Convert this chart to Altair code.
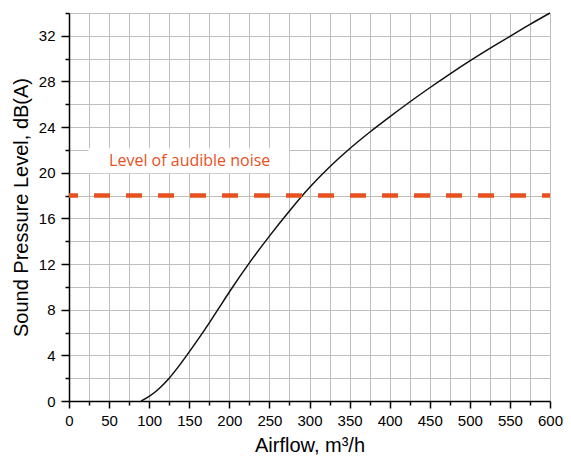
import altair as alt
import pandas as pd

# Curve data
airflow = [90, 100, 112.5, 125, 137.5, 150, 162.5, 175, 187.5, 200, 225, 250, 275,
           300, 325, 350, 375, 400, 425, 450, 475, 500, 525, 550, 575, 600]
spl = [0, 0.4, 1.1, 2.0, 3.1, 4.3, 5.55, 6.85, 8.2, 9.55, 12.1, 14.45, 16.65,
       18.7, 20.5, 22.1, 23.55, 24.9, 26.2, 27.45, 28.65, 29.8, 30.9, 31.95, 33.0, 34.0]

# Threshold line
noise_level = [18]
noise_label = ["Level of audible noise"]

# Axis ticks
x_ticks = list(range(0, 601, 25))
y_ticks = list(range(0, 35, 2))

ORANGE = "#e8501e"
FONT = "Liberation Sans"

curve_df = pd.DataFrame({"airflow": airflow, "spl": spl})
rule_df = pd.DataFrame({"x0": [0], "x1": [600], "level": noise_level})
box_df = pd.DataFrame({"x0": [25], "x1": [274], "y0": [20], "y1": [22.1]})
label_df = pd.DataFrame({"x": [50], "y": [20.55], "text": noise_label})

x_scale = alt.Scale(domain=[0, 600], nice=False, zero=False)
y_scale = alt.Scale(domain=[0, 34], nice=False)

x_axis = alt.Axis(
    values=x_ticks,
    labelExpr="datum.value % 50 === 0 ? datum.label : ''",
    tickSize={"condition": {"test": "datum.value % 50 === 0", "value": 7}, "value": 4},
    grid=True, gridColor="#bebebe", gridWidth=1,
    domainColor="#000000", domainWidth=1.5,
    tickColor="#000000", tickWidth=1.5,
    labelFont=FONT, labelFontSize=15, labelColor="#000000", labelPadding=5,
    labelFlush=False, labelOverlap=False,
    title="Airflow, m³/h", titleFont=FONT, titleFontSize=20, titleFontWeight="normal",
    titleColor="#000000", titlePadding=7,
)
y_axis = alt.Axis(
    values=y_ticks,
    labelExpr="datum.value % 4 === 0 ? datum.label : ''",
    tickSize={"condition": {"test": "datum.value % 4 === 0", "value": 8}, "value": 4},
    grid=True, gridColor="#bebebe", gridWidth=1,
    domainColor="#000000", domainWidth=1.5,
    tickColor="#000000", tickWidth=1.5,
    labelFont=FONT, labelFontSize=15, labelColor="#000000", labelPadding=6,
    labelFlush=False, labelOverlap=False,
    title="Sound Pressure Level, dB(A)", titleFont=FONT, titleFontSize=20,
    titleFontWeight="normal", titleColor="#000000", titlePadding=7,
)

box = alt.Chart(box_df).mark_rect(fill="white", stroke="white").encode(
    x=alt.X("x0:Q", scale=x_scale, axis=x_axis),
    x2="x1:Q",
    y=alt.Y("y0:Q", scale=y_scale, axis=y_axis),
    y2="y1:Q",
)

line = alt.Chart(curve_df).mark_line(color="#111111", strokeWidth=1.5, interpolate="monotone").encode(
    x=alt.X("airflow:Q", scale=x_scale, axis=x_axis),
    y=alt.Y("spl:Q", scale=y_scale, axis=y_axis),
)

rule = alt.Chart(rule_df).mark_rule(
    color=ORANGE, strokeWidth=4.5, strokeDash=[16, 16], strokeDashOffset=7, strokeCap="butt"
).encode(
    x=alt.X("x0:Q", scale=x_scale, axis=x_axis),
    x2="x1:Q",
    y=alt.Y("level:Q", scale=y_scale, axis=y_axis),
)

label = alt.Chart(label_df).mark_text(
    align="left", baseline="alphabetic", font="Open Sans", fontSize=16, color=ORANGE
).encode(
    x=alt.X("x:Q", scale=x_scale, axis=x_axis),
    y=alt.Y("y:Q", scale=y_scale, axis=y_axis),
    text="text:N",
)

chart = alt.layer(box, line, rule, label).properties(
    width=481, height=388,
    autosize=alt.AutoSizeParams(type="none"),
    padding={"left": 61, "top": 5, "right": 13, "bottom": 55},
).configure_view(strokeWidth=0)

chart.save("out.html", embed_options={"renderer": "svg", "actions": False})
